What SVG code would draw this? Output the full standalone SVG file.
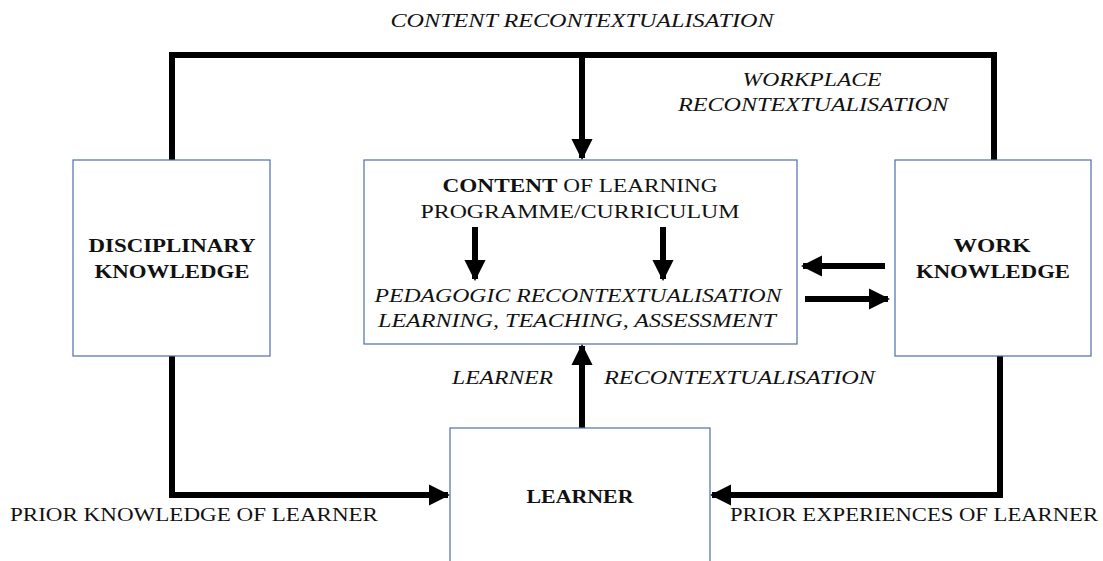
<svg xmlns="http://www.w3.org/2000/svg" width="1103" height="561" viewBox="0 0 1103 561">
<defs>
<style>
.box{fill:#fff;stroke:#4f6fa8;stroke-width:1.2}
.ln{fill:none;stroke:#000;stroke-width:6;stroke-linejoin:miter}
.t{font-family:"Liberation Serif","Times New Roman",serif;font-size:19px;fill:#111}
.b{font-weight:bold}
.i{font-style:italic}
</style>
<marker id="ah" viewBox="0 0 10 10" refX="9" refY="5" markerWidth="3.6" markerHeight="3.6" orient="auto" markerUnits="strokeWidth">
<path d="M0,0 L10,5 L0,10 z" fill="#000"/>
</marker>
</defs>
<rect width="1103" height="561" fill="#fff"/>
<g id="connectors">
<path class="ln" d="M172,160 V55 H994 V160"/>
<path class="ln" d="M582,55 V158" marker-end="url(#ah)"/>
<path class="ln" d="M172,356 V495 H448" marker-end="url(#ah)"/>
<path class="ln" d="M1000,356 V495 H712" marker-end="url(#ah)"/>
<path class="ln" d="M582,428 V346" marker-end="url(#ah)"/>
<path class="ln" d="M885,266 H803" marker-end="url(#ah)"/>
<path class="ln" d="M805,299 H888" marker-end="url(#ah)"/>
</g>
<g id="disciplinary">
<rect class="box" x="73" y="160" width="197" height="196"/>
<text class="t b" x="172" y="252" text-anchor="middle" textLength="167" lengthAdjust="spacingAndGlyphs">DISCIPLINARY</text>
<text class="t b" x="172" y="278" text-anchor="middle" textLength="155" lengthAdjust="spacingAndGlyphs">KNOWLEDGE</text>
</g>
<g id="content">
<rect class="box" x="364" y="160" width="433" height="184"/>
<text class="t" x="580" y="192" text-anchor="middle" textLength="275" lengthAdjust="spacingAndGlyphs"><tspan class="b">CONTENT</tspan> OF LEARNING</text>
<text class="t" x="580" y="218" text-anchor="middle" textLength="319" lengthAdjust="spacingAndGlyphs">PROGRAMME/CURRICULUM</text>
<path class="ln" d="M475,227 V279" marker-end="url(#ah)"/>
<path class="ln" d="M663,227 V279" marker-end="url(#ah)"/>
<text class="t i" x="578" y="302" text-anchor="middle" textLength="407" lengthAdjust="spacingAndGlyphs">PEDAGOGIC RECONTEXTUALISATION</text>
<text class="t i" x="577" y="327" text-anchor="middle" textLength="398" lengthAdjust="spacingAndGlyphs">LEARNING, TEACHING, ASSESSMENT</text>
</g>
<g id="work">
<rect class="box" x="895" y="160" width="196" height="196"/>
<text class="t b" x="992" y="252" text-anchor="middle" textLength="77" lengthAdjust="spacingAndGlyphs">WORK</text>
<text class="t b" x="993" y="278" text-anchor="middle" textLength="154" lengthAdjust="spacingAndGlyphs">KNOWLEDGE</text>
</g>
<g id="learner">
<rect class="box" x="450" y="428" width="260" height="140"/>
<text class="t b" x="580" y="503" text-anchor="middle" textLength="107" lengthAdjust="spacingAndGlyphs">LEARNER</text>
</g>
<g id="labels">
<text class="t i" x="582" y="27" text-anchor="middle" textLength="383" lengthAdjust="spacingAndGlyphs">CONTENT RECONTEXTUALISATION</text>
<text class="t i" x="812" y="86" text-anchor="middle" textLength="139" lengthAdjust="spacingAndGlyphs">WORKPLACE</text>
<text class="t i" x="813" y="111" text-anchor="middle" textLength="270" lengthAdjust="spacingAndGlyphs">RECONTEXTUALISATION</text>
<text class="t i" x="452" y="384" textLength="101" lengthAdjust="spacingAndGlyphs">LEARNER</text>
<text class="t i" x="604" y="384" textLength="271" lengthAdjust="spacingAndGlyphs">RECONTEXTUALISATION</text>
<text class="t" x="10" y="521" textLength="368" lengthAdjust="spacingAndGlyphs">PRIOR KNOWLEDGE OF LEARNER</text>
<text class="t" x="730" y="521" textLength="368" lengthAdjust="spacingAndGlyphs">PRIOR EXPERIENCES OF LEARNER</text>
</g>
</svg>
